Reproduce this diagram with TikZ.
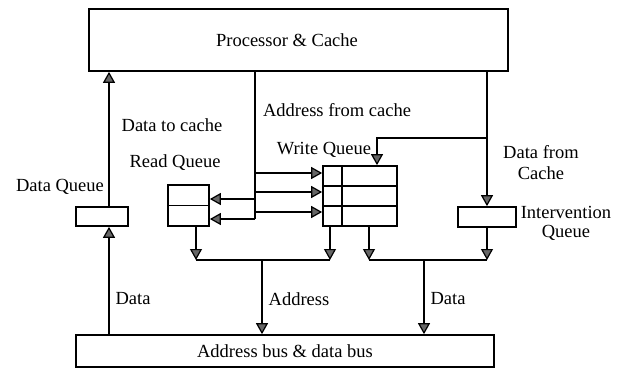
\documentclass[tikz,border=0pt]{standalone}
\usepackage{fontspec}
\setmainfont{Liberation Serif}
\usetikzlibrary{arrows.meta,calc}
\begin{document}
\begin{tikzpicture}[x=1pt,y=-1pt,
  font=\fontsize{18.5}{21}\selectfont,
  line width=1.7pt,
  box/.style={draw, rectangle, inner sep=0pt},
  arr/.style={-{Triangle[width=12pt,length=11pt,fill=gray!80!black,line width=1.2pt]}},
  lbl/.style={inner sep=0pt, anchor=center}
]
\useasboundingbox (0,0) rectangle (622,370);

% main blocks
\node[box, minimum width=419pt, minimum height=62pt,
      label={[lbl,xshift=-11.5pt]center:Processor \& Cache}] (proc) at (298.5,40) {};
\node[box, minimum width=418pt, minimum height=32pt] (bus) at (285,351) {Address bus \& data bus};

% queues
\node[box, minimum width=52pt, minimum height=19pt] (dq) at (102,216.5) {};
\node[box, minimum width=41pt, minimum height=41pt] (rq) at (188.5,205.5) {};
\draw (rq.west) -- (rq.east);
\node[box, minimum width=74pt, minimum height=60pt] (wq) at (360,196) {};
\draw ($(wq.west)+(0,-10)$) -- ($(wq.east)+(0,-10)$);
\draw ($(wq.west)+(0,10)$) -- ($(wq.east)+(0,10)$);
\draw ($(wq.north west)+(20,0)$) -- ($(wq.south west)+(20,0)$);
\node[box, minimum width=58pt, minimum height=20pt] (iq) at (487,217) {};

% labels
\node[lbl] (ldq) at (60,187) {Data Queue};
\node[lbl] (ldtc) at (172,125) {Data to cache};
\node[lbl] (lrq) at (175,163) {Read Queue};
\node[lbl] (lafc) at (337,110) {Address from cache};
\node[lbl] (lwq) at (324,150) {Write Queue};
\node[lbl, align=center] (ldfc) at (541,163) {Data from\\Cache};
\node[lbl, align=center] (liq) at (566,223) {Intervention\\[-2pt]Queue};
\node[lbl] (ld1) at (133,299) {Data};
\node[lbl] (lad) at (299,299) {Address};
\node[lbl] (ld2) at (448,299) {Data};

% data path between bus, data queue and cache
\draw[arr] ([xshift=7pt]dq.north) -- ([xshift=7pt]dq.north |- proc.south);
\draw[arr] ([xshift=7pt]dq.south |- bus.north) -- ([xshift=7pt]dq.south);

% address from cache
\coordinate (af) at (255,71);
\coordinate (j1) at (255,199);
\coordinate (j2) at (255,219);
\coordinate (k1) at (255,173);
\coordinate (k2) at (255,192);
\coordinate (k3) at (255,212);
\draw (af) -- (j2);
\draw[arr] (j1) -- (rq.east |- j1);
\draw[arr] (j2) -- (rq.east |- j2);
\draw[arr] (k1) -- (wq.west |- k1);
\draw[arr] (k2) -- (wq.west |- k2);
\draw[arr] (k3) -- (wq.west |- k3);

% data from cache
\coordinate (dc) at (487,71);
\coordinate (dcb) at (487,138);
\coordinate (wqt) at (377,138);
\draw[arr] (dc) -- (iq.north);
\draw[arr] (dcb) -- (wqt) -- (wqt |- wq.north);

% queue outputs to the bus
\coordinate (ha) at (196,260);
\coordinate (hb) at (330,260);
\coordinate (hc) at (369,260);
\coordinate (hd) at (487,260);
\coordinate (ad) at (262,260);
\coordinate (dd) at (424,260);
\draw (ha) -- (hb);
\draw (hc) -- (hd);
\draw[arr] (rq.south -| ha) -- (ha);
\draw[arr] (wq.south -| hb) -- (hb);
\draw[arr] (wq.south -| hc) -- (hc);
\draw[arr] (iq.south) -- (hd);
\draw[arr] (ad) -- (bus.north -| ad);
\draw[arr] (dd) -- (bus.north -| dd);
\end{tikzpicture}
\end{document}
